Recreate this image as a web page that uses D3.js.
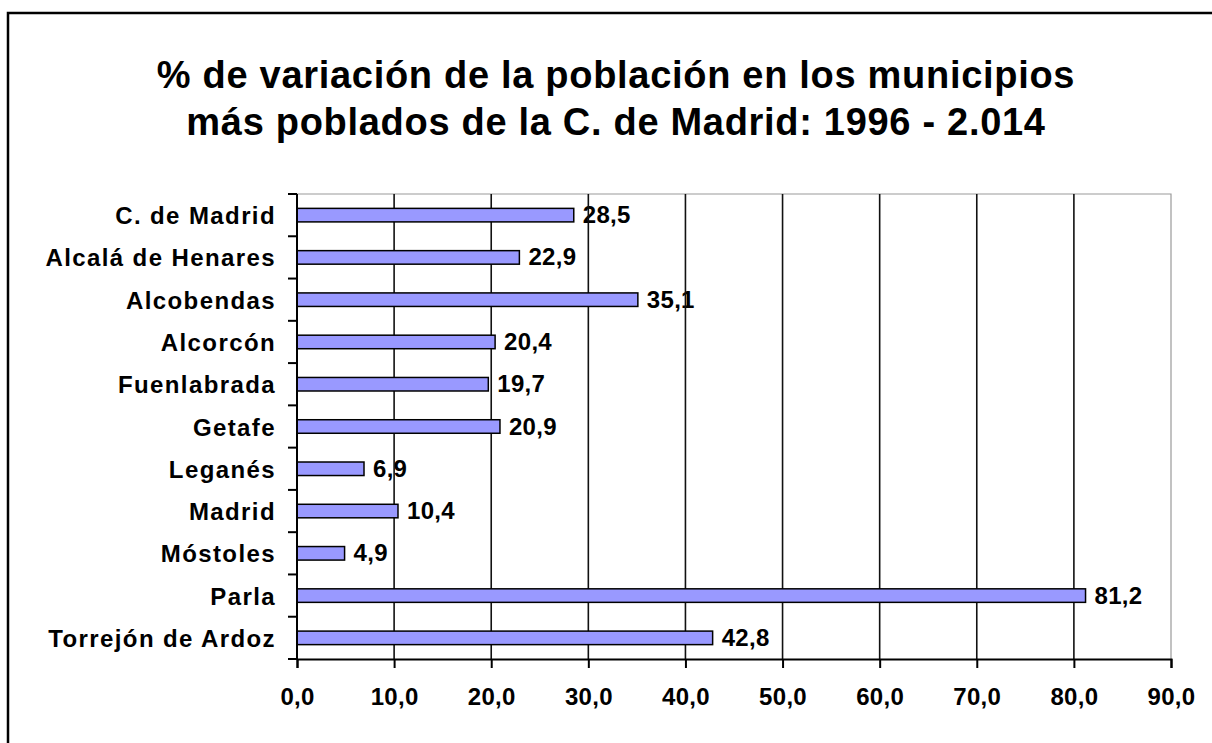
<!DOCTYPE html>
<html>
<head>
<meta charset="utf-8">
<script src="https://cdn.jsdelivr.net/npm/d3@7"></script>
<style>
  body { margin: 0; background: #fff; }
  text { font-family: 'Liberation Sans', Arial, sans-serif; font-weight: bold; fill: #000; }
</style>
</head>
<body>
<svg id="chart" width="1212" height="743"></svg>
<script>
// data
const municipios = ['C. de Madrid', 'Alcalá de Henares', 'Alcobendas', 'Alcorcón', 'Fuenlabrada',
                    'Getafe', 'Leganés', 'Madrid', 'Móstoles', 'Parla', 'Torrejón de Ardoz']
const variacion = [28.5, 22.9, 35.1, 20.4, 19.7, 20.9, 6.9, 10.4, 4.9, 81.2, 42.8]
const xTicks = [0, 10, 20, 30, 40, 50, 60, 70, 80, 90]
const titleLines = ['% de variación de la población en los municipios',
                    'más poblados de la C. de Madrid: 1996 - 2.014']

const rows = municipios.map((name, i) => ({name: name, value: variacion[i]}))

// spanish number format (comma decimal)
const es = d3.formatLocale({decimal: ',', thousands: '.', grouping: [3], currency: ['', '€']})
const fmt = es.format('.1f')

const plot = {left: 297, right: 1171, top: 194, bottom: 659}
const svg = d3.select('#chart')

// scales
const x = d3.scaleLinear().domain([0, 90]).range([plot.left, plot.right])
const y = d3.scaleBand().domain(municipios).range([plot.top, plot.bottom])
  .paddingInner(0.68).paddingOuter(0.34)
const yEdge = d3.scaleLinear().domain([0, municipios.length]).range([plot.top, plot.bottom])

// outer frame (runs off the right/bottom of the picture)
svg.append('rect')
  .attr('x', 8).attr('y', 13).attr('width', 1240).attr('height', 760)
  .style('fill', 'none').style('stroke', '#000').style('stroke-width', 2.5)

// title
svg.append('g').selectAll('text').data(titleLines).enter().append('text')
  .attr('x', 616).attr('y', (d, i) => 88 + i * 47)
  .attr('text-anchor', 'middle')
  .style('font-size', '38px').style('letter-spacing', '0.7px')
  .text(d => d)

// plot frame: top/right grey
svg.append('path')
  .attr('d', `M${plot.left},${plot.top}H${plot.right}V${plot.bottom}`)
  .style('fill', 'none').style('stroke', '#9a9a9a').style('stroke-width', 1.2)

// value labels (gridlines are drawn over them, as in the original)
svg.append('g').selectAll('text').data(rows).enter().append('text')
  .attr('x', d => x(d.value) + 9)
  .attr('y', d => y(d.name) + y.bandwidth() / 2 + 8)
  .style('font-size', '24px').style('letter-spacing', '0.3px')
  .text(d => fmt(d.value))

// vertical gridlines
svg.append('g').selectAll('line').data(xTicks.slice(1, -1)).enter().append('line')
  .attr('x1', d => x(d)).attr('x2', d => x(d))
  .attr('y1', plot.top).attr('y2', plot.bottom)
  .style('stroke', '#111').style('stroke-width', 1.6)

// bars
svg.append('g').selectAll('rect').data(rows).enter().append('rect')
  .attr('x', x(0))
  .attr('y', d => y(d.name))
  .attr('width', d => x(d.value) - x(0))
  .attr('height', y.bandwidth())
  .style('fill', '#9999ff').style('stroke', '#000').style('stroke-width', 1.5)

// x axis
const axisX = d3.axisBottom(x).tickValues(xTicks).tickSize(9).tickPadding(29).tickFormat(fmt)
const gx = svg.append('g').attr('transform', `translate(0,${plot.bottom})`).call(axisX)
gx.select('.domain').style('stroke', '#000').style('stroke-width', 2)
gx.selectAll('.tick line').style('stroke', '#000').style('stroke-width', 2)
gx.selectAll('.tick text')
  .attr('dy', '0.35em')
  .style('font-size', '24px').style('letter-spacing', '0.3px')
  .style('font-family', "'Liberation Sans', Arial, sans-serif")

// y axis: line, ticks between categories, labels
svg.append('line')
  .attr('x1', plot.left).attr('x2', plot.left)
  .attr('y1', plot.top).attr('y2', plot.bottom)
  .style('stroke', '#000').style('stroke-width', 2)
svg.append('g').selectAll('line').data(d3.range(municipios.length + 1)).enter().append('line')
  .attr('x1', plot.left - 9).attr('x2', plot.left)
  .attr('y1', d => yEdge(d)).attr('y2', d => yEdge(d))
  .style('stroke', '#000').style('stroke-width', 2)
svg.append('g').selectAll('text').data(municipios).enter().append('text')
  .attr('x', 276)
  .attr('y', d => y(d) + y.bandwidth() / 2 + 9)
  .attr('text-anchor', 'end')
  .style('font-size', '24px').style('letter-spacing', '1.4px')
  .text(d => d)
</script>
</body>
</html>
